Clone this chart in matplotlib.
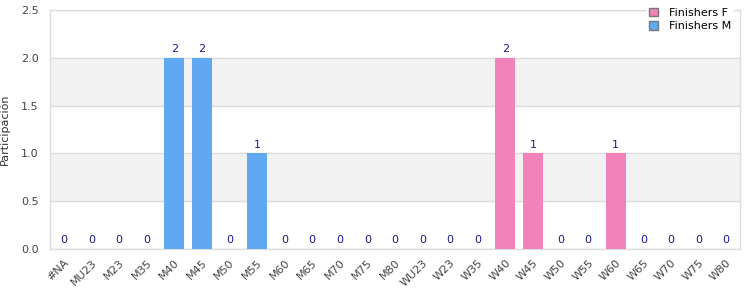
import numpy as np
import matplotlib
matplotlib.use("Agg")
from matplotlib import pyplot as plt
from matplotlib.patches import Patch

categories = ["#NA", "MU23", "M23", "M35", "M40", "M45", "M50", "M55", "M60", "M65",
              "M70", "M75", "M80", "WU23", "W23", "W35", "W40", "W45", "W50", "W55",
              "W60", "W65", "W70", "W75", "W80"]
finishers_m = [0, 0, 0, 0, 2, 2, 0, 1, 0, 0, 0, 0, 0, 0, 0, 0, 0, 0, 0, 0, 0, 0, 0, 0, 0]
finishers_f = [0, 0, 0, 0, 0, 0, 0, 0, 0, 0, 0, 0, 0, 0, 0, 0, 2, 1, 0, 0, 1, 0, 0, 0, 0]

blue = "#60a8f2"
pink = "#f282ba"
grid_c = "#dddddd"

fig = plt.figure(figsize=(7.5, 3), dpi=100)
ax = fig.add_axes([50 / 750, 51 / 300, 690 / 750, 239 / 300])

x = np.arange(len(categories))
m = np.array(finishers_m)
f = np.array(finishers_f)
ax.bar(x, m, width=0.72, color=blue, zorder=3)
ax.bar(x, f, bottom=m, width=0.72, color=pink, zorder=3)

tot = m + f
for xi, t in zip(x, tot):
    ax.text(xi, t + 0.04, str(t), ha="center", va="bottom", fontsize=8, color="#1a1a8c", zorder=4)

ax.set_xlim(-0.5, len(categories) - 0.5)
ax.set_ylim(0, 2.5)
ax.set_yticks(np.arange(0, 2.51, 0.5))
ax.set_yticklabels(["%.1f" % v for v in np.arange(0, 2.51, 0.5)])
# alternating bands
for lo in [0.5, 1.5]:
    ax.axhspan(lo, lo + 0.5, color="#f2f2f2", zorder=0)
ax.yaxis.grid(True, color=grid_c, linewidth=1, zorder=1)
ax.set_axisbelow(True)
for s in ax.spines.values():
    s.set_color(grid_c)
    s.set_linewidth(1)

ax.set_xticks(x)
ax.set_xticklabels(categories, rotation=45, ha="right", rotation_mode="anchor", fontsize=8, color="#444444")
ax.tick_params(axis="y", labelsize=8, labelcolor="#444444", length=0, pad=8)
ax.tick_params(axis="x", length=0, pad=6)
ax.set_ylabel("Participación", fontsize=8, color="#333333")
ax.yaxis.set_label_coords(-0.058, 0.5)

handles = [Patch(facecolor=pink, edgecolor="#777777", label="Finishers F"),
           Patch(facecolor=blue, edgecolor="#777777", label="Finishers M")]
leg = fig.legend(handles=handles, loc="upper right", bbox_to_anchor=(0.985, 1.0),
                 fontsize=8, frameon=True, handlelength=0.8, handleheight=0.8,
                 borderpad=0.2, labelspacing=0.3, handletextpad=1.0, fancybox=False)
leg.get_frame().set_edgecolor("white")
leg.get_frame().set_facecolor("white")
leg.get_frame().set_alpha(1)

fig.savefig("out.png", dpi=100)
